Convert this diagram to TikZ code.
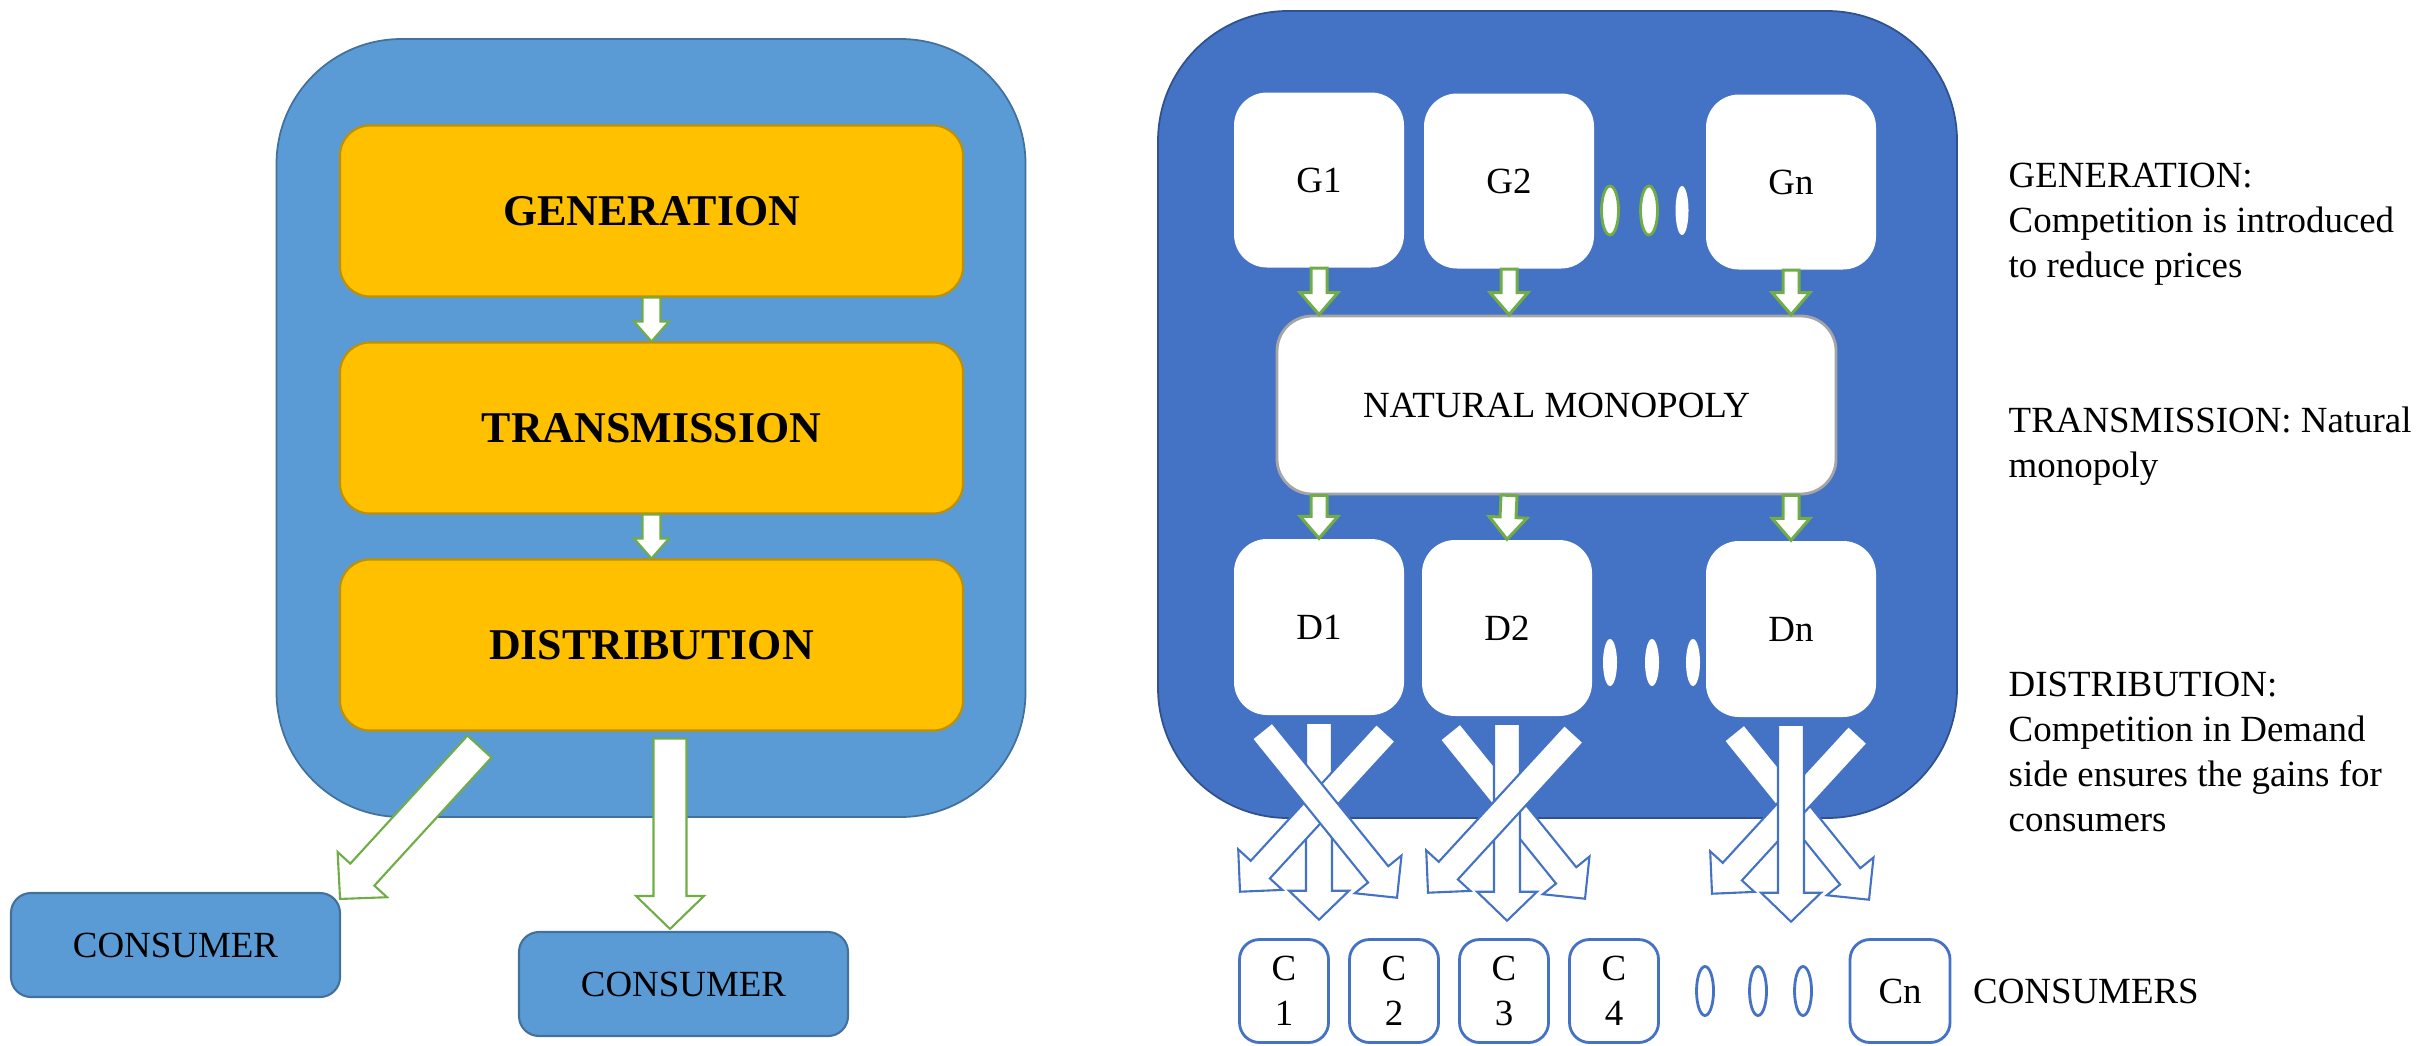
\documentclass[tikz,border=0pt]{standalone}
\usepackage{fontspec}
\setmainfont{Liberation Serif}
\usetikzlibrary{shapes.geometric, calc}
\definecolor{lblue}{HTML}{5B9BD5}
\definecolor{lblueline}{HTML}{41719C}
\definecolor{dblue}{HTML}{4472C4}
\definecolor{dblueline}{HTML}{2F528F}
\definecolor{stage}{HTML}{FFC000}
\definecolor{stageline}{HTML}{BF9000}
\definecolor{agreen}{HTML}{70AD47}
\definecolor{nmgrey}{HTML}{A5A5A5}
\tikzset{
    outerbox/.style = {rectangle, rounded corners=1.25cm, line width=0.5pt},
    stagebox/.style = {rectangle, rounded corners=0.3cm, fill=stage, draw=stageline, line width=0.6pt,
        minimum width=6.23cm, minimum height=1.71cm, font=\bfseries\fontsize{12.5}{15}\selectfont},
    consbox/.style = {rectangle, rounded corners=0.2cm, fill=lblue, draw=lblueline, line width=0.6pt,
        minimum width=3.29cm, minimum height=1.04cm},
    firmbox/.style = {rectangle, rounded corners=0.33cm, fill=white, minimum width=1.70cm, minimum height=1.75cm},
    nmbox/.style = {rectangle, rounded corners=0.35cm, fill=white, draw=nmgrey, line width=0.8pt,
        minimum width=5.59cm, minimum height=1.78cm},
    cbox/.style = {rectangle, rounded corners=0.2cm, fill=white, draw=dblue, line width=0.8pt,
        minimum width=0.89cm, minimum height=1.03cm, align=center, inner sep=0pt},
    gdot/.style = {ellipse, fill=white, draw=agreen, line width=0.8pt, minimum width=0.17cm, minimum height=0.49cm, inner sep=0pt},
    wdot/.style = {ellipse, fill=white, minimum width=0.14cm, minimum height=0.47cm, inner sep=0pt},
    cdot/.style = {ellipse, fill=white, draw=dblue, line width=0.8pt, minimum width=0.17cm, minimum height=0.49cm, inner sep=0pt},
    gblock/.style = {fill=white, draw=agreen, line width=0.6pt, line join=miter},
    bblock/.style = {fill=white, draw=dblue, line width=0.6pt, line join=miter},
    note/.style = {anchor=north west, inner sep=0pt, align=left, font=\fontsize{10.5}{12.8}\selectfont},
}
% block arrow: [style]{tail}{tip}{half shaft}{half head}{head length}
\newcommand{\blockarrow}[6][]{%
    \coordinate (ba-hb) at ($(#3)!#6!(#2)$);
    \filldraw[#1] ($(#2)!#4!90:(#3)$) -- ($(ba-hb)!#4!90:(#3)$) -- ($(ba-hb)!#5!90:(#3)$) -- (#3)
        -- ($(ba-hb)!#5!-90:(#3)$) -- ($(ba-hb)!#4!-90:(#3)$) -- ($(#2)!#4!-90:(#3)$) -- cycle;
}

\begin{document}
\begin{tikzpicture}[font=\fontsize{10.5}{12.8}\selectfont]
\useasboundingbox (0,0) rectangle (24.2,-10.45);

\begin{scope}
\node[outerbox, fill=lblue, draw=lblueline, minimum width=7.49cm, minimum height=7.78cm] (vu) at (6.51,-4.28) {};
\node[stagebox] (gen) at (6.515,-2.11) {GENERATION};
\node[stagebox] (tra) at (6.515,-4.28) {TRANSMISSION};
\node[stagebox] (dis) at (6.515,-6.45) {DISTRIBUTION};
\blockarrow[gblock]{gen.south}{tra.north}{0.09cm}{0.175cm}{0.2cm}
\blockarrow[gblock]{tra.south}{dis.north}{0.09cm}{0.175cm}{0.2cm}

\node[consbox] (cons1) at (1.755,-9.45) {CONSUMER};
\node[consbox] (cons2) at (6.835,-9.84) {CONSUMER};

\coordinate (dl-tail) at ($(dis.south)+(-1.72,-0.15)$);
\coordinate (dl-tip) at ($(cons1.north east)+(-0.01,-0.07)$);
\blockarrow[gblock]{dl-tail}{dl-tip}{0.163cm}{0.335cm}{0.33cm}
\coordinate (dv-tail) at ($(dis.south)+(0.185,-0.07)$);
\coordinate (dv-tip) at ($(cons2.north)+(-0.135,0.02)$);
\blockarrow[gblock]{dv-tail}{dv-tip}{0.165cm}{0.34cm}{0.33cm}
\end{scope}

\begin{scope}
\node[outerbox, rounded corners=1.3cm, fill=dblue, draw=dblueline, minimum width=7.99cm, minimum height=8.07cm] (mkt) at (15.575,-4.145) {};
\node[firmbox] (g1) at (13.19,-1.80) {G1};
\node[firmbox] (g2) at (15.09,-1.81) {G2};
\node[firmbox] (gn) at (17.91,-1.82) {Gn};
\node[gdot] (gd1) at (16.10,-2.105) {};
\node[gdot] (gd2) at (16.49,-2.105) {};
\node[wdot, minimum width=0.13cm, minimum height=0.49cm] (gd3) at (16.82,-2.105) {};

\node[nmbox] (nm) at (15.565,-4.05) {NATURAL MONOPOLY};

\node[firmbox, minimum height=1.76cm] (d1) at (13.19,-6.27) {D1};
\node[firmbox, minimum height=1.76cm] (d2) at (15.07,-6.28) {D2};
\node[firmbox, minimum height=1.76cm] (dn) at (17.91,-6.29) {Dn};
\node[wdot] (dd1) at (16.10,-6.625) {};
\node[wdot] (dd2) at (16.52,-6.625) {};
\node[wdot] (dd3) at (16.93,-6.625) {};

\foreach \n in {1,2,n} {
    \coordinate (gt\n) at (g\n.south |- nm.north);
    \blockarrow[gblock, line width=0.85pt]{g\n.south}{gt\n}{0.08cm}{0.19cm}{0.22cm}
    \coordinate (ns\n) at (g\n.south |- nm.south);
    \blockarrow[gblock, line width=0.85pt]{ns\n}{d\n.north}{0.08cm}{0.19cm}{0.22cm}
    \coordinate (d\n-vs) at ($(d\n.south)+(0,-0.07)$);
    \coordinate (d\n-ve) at ($(d\n.south)+(0,-2.04)$);
    \coordinate (d\n-ls) at ($(d\n.south)+(0.67,-0.17)$);
    \coordinate (d\n-le) at ($(d\n.south)+(-0.79,-1.76)$);
    \coordinate (d\n-rs) at ($(d\n.south)+(-0.57,-0.15)$);
    \coordinate (d\n-re) at ($(d\n.south)+(0.78,-1.82)$);
}

\blockarrow[bblock]{d1-vs}{d1-ve}{0.13cm}{0.30cm}{0.29cm}
\blockarrow[bblock]{d1-ls}{d1-le}{0.13cm}{0.30cm}{0.30cm}
\blockarrow[bblock]{d1-rs}{d1-re}{0.13cm}{0.30cm}{0.30cm}

\blockarrow[bblock]{d2-rs}{d2-re}{0.13cm}{0.30cm}{0.30cm}
\blockarrow[bblock]{d2-vs}{d2-ve}{0.13cm}{0.30cm}{0.29cm}
\blockarrow[bblock]{d2-ls}{d2-le}{0.13cm}{0.30cm}{0.30cm}

\blockarrow[bblock]{dn-rs}{dn-re}{0.13cm}{0.30cm}{0.30cm}
\blockarrow[bblock]{dn-ls}{dn-le}{0.13cm}{0.30cm}{0.30cm}
\blockarrow[bblock]{dn-vs}{dn-ve}{0.13cm}{0.30cm}{0.29cm}

\node[cbox] (c1) at (12.84,-9.91) {C\\1};
\node[cbox] (c2) at (13.94,-9.91) {C\\2};
\node[cbox] (c3) at (15.04,-9.91) {C\\3};
\node[cbox] (c4) at (16.14,-9.91) {C\\4};
\node[cdot] (cd1) at (17.05,-9.91) {};
\node[cdot] (cd2) at (17.58,-9.91) {};
\node[cdot] (cd3) at (18.03,-9.91) {};
\node[cbox, minimum width=1.0cm] (cn) at (19.00,-9.91) {Cn};
\node[anchor=west, inner sep=0pt] (conslbl) at ($(cn.east)+(0.21,0)$) {CONSUMERS};
\end{scope}

\node[note] (gtxt) at (20.08,-1.62) {GENERATION:\\Competition is introduced\\to reduce prices};
\node[note] (ttxt) at (20.08,-4.06) {TRANSMISSION: Natural\\monopoly};
\node[note] (dtxt) at (20.08,-6.71) {DISTRIBUTION:\\Competition in Demand\\side ensures the gains for\\consumers};

\end{tikzpicture}
\end{document}
